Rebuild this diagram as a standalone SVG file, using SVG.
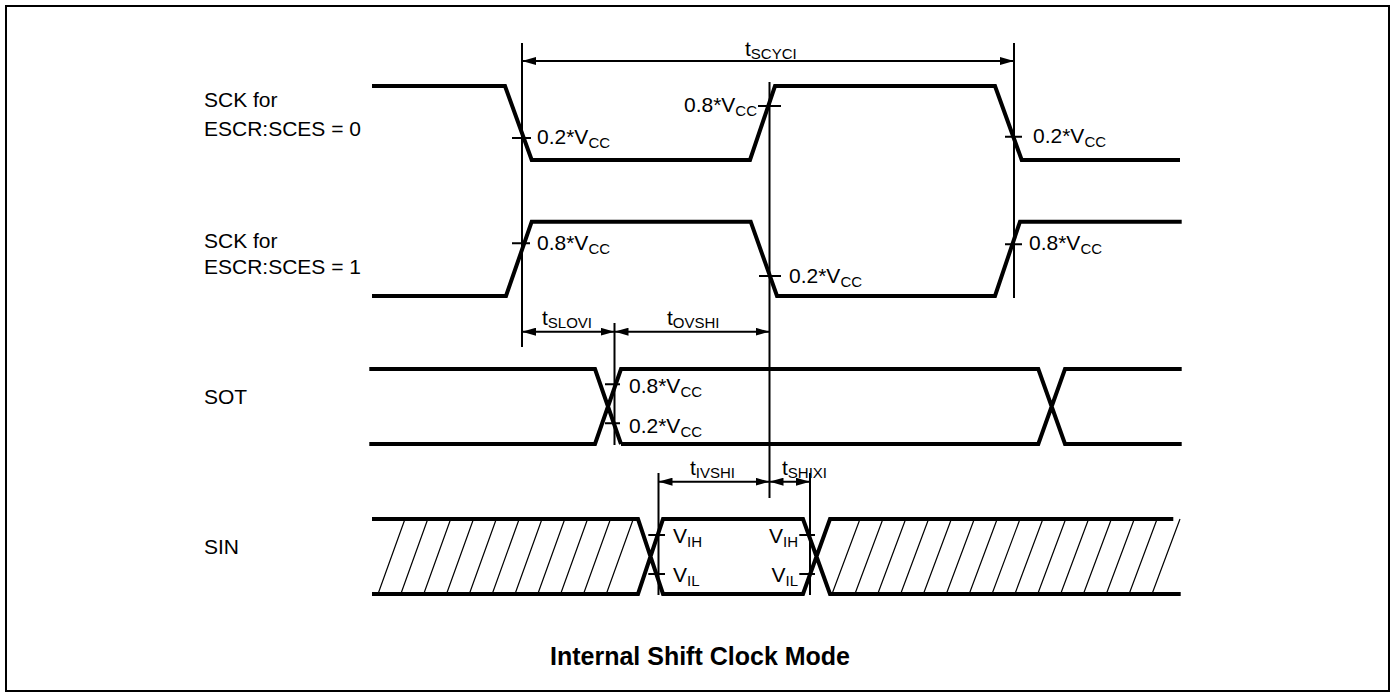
<svg xmlns="http://www.w3.org/2000/svg" width="1395" height="698" viewBox="0 0 1395 698">
<style>
.w{fill:none;stroke:#000;stroke-width:4;stroke-linejoin:miter}
.t{fill:none;stroke:#000;stroke-width:2}
.h{fill:none;stroke:#000;stroke-width:1.2}
.d{fill:none;stroke:#000;stroke-width:2}
text{font-family:"Liberation Sans",Arial,sans-serif;font-size:21px;fill:#000}
.s{font-size:15px}
.title{font-weight:bold;font-size:25px}
</style>
<defs>
<marker id="ah" viewBox="0 0 14 8" refX="14" refY="4" markerWidth="14" markerHeight="8" markerUnits="userSpaceOnUse" orient="auto-start-reverse">
<path d="M0,0 L14,4 L0,8 Z" fill="#000"/>
</marker>
</defs>
<rect x="6" y="6" width="1383" height="685" fill="#fff" stroke="#000" stroke-width="2"/>

<g id="labels">
<text x="204" y="107">SCK for</text>
<text x="204" y="136">ESCR:SCES = 0</text>
<text x="204" y="248">SCK for</text>
<text x="204" y="274">ESCR:SCES = 1</text>
<text x="204" y="404">SOT</text>
<text x="204" y="554">SIN</text>
</g>

<g id="sck0">
<path class="w" d="M372,86 H505 L531.7,160 H750 L775,86 H995 L1021.7,160 H1180"/>
<path class="t" d="M512,138 H531 M758,106 H781 M1005,136.7 H1022"/>
<text x="537" y="144">0.2*V<tspan class="s" dy="4">CC</tspan></text>
<text x="757" y="112" text-anchor="end">0.8*V<tspan class="s" dy="4">CC</tspan></text>
<text x="1033" y="143">0.2*V<tspan class="s" dy="4">CC</tspan></text>
</g>

<g id="sck1">
<path class="w" d="M372,296 H506 L531.7,221.7 H750.7 L777,296 H995 L1020,221.7 H1181.7"/>
<path class="t" d="M512,243.3 H530 M759,276 H781 M1005,244.3 H1022"/>
<text x="537" y="250">0.8*V<tspan class="s" dy="4">CC</tspan></text>
<text x="789" y="283">0.2*V<tspan class="s" dy="4">CC</tspan></text>
<text x="1029" y="250">0.8*V<tspan class="s" dy="4">CC</tspan></text>
</g>

<g id="sot">
<path class="w" d="M369.3,369 H595 L621,444 M369.3,444 H595 L621,369 H1038.3 L1065,444 H1181.7 M621,444 H1038.3 L1065,369 H1181.7"/>
<path class="t" d="M605,384.3 H620 M605,423.3 H620"/>
<text x="629" y="393">0.8*V<tspan class="s" dy="4">CC</tspan></text>
<text x="629" y="433">0.2*V<tspan class="s" dy="4">CC</tspan></text>
</g>

<g id="sin">
<path class="w" d="M372,519 H638 L663,594 H803 L830,519 H1173.3 M372,594 H638 L663,519 H803 L830,594 H1180.7"/>
<path class="h" d="M405,519 L378,594 M427.8,519 L400.8,594 M450.7,519 L423.7,594 M473.5,519 L446.5,594 M496.3,519 L469.3,594 M519.2,519 L492.2,594 M542,519 L515,594 M564.8,519 L537.8,594 M587.6,519 L560.6,594 M610.5,519 L583.5,594 M633.3,519 L606.3,594"/>
<path class="h" d="M860,519 L832,594 M882.9,519 L854.9,594 M905.7,519 L877.7,594 M928.6,519 L900.6,594 M951.4,519 L923.4,594 M974.3,519 L946.3,594 M997.2,519 L969.2,594 M1020,519 L992,594 M1042.9,519 L1014.9,594 M1065.7,519 L1037.7,594 M1088.6,519 L1060.6,594 M1111.4,519 L1083.4,594 M1134.3,519 L1106.3,594 M1157.1,519 L1129.1,594 M1180,519 L1152,594"/>
<path class="t" d="M648.3,535 H665 M648.3,574 H665 M799.3,535 H815 M799.3,574 H815"/>
<text x="673" y="543">V<tspan class="s" dy="4">IH</tspan></text>
<text x="673" y="582">V<tspan class="s" dy="4">IL</tspan></text>
<text x="798" y="543" text-anchor="end">V<tspan class="s" dy="4">IH</tspan></text>
<text x="798" y="582" text-anchor="end">V<tspan class="s" dy="4">IL</tspan></text>
</g>

<g id="connectors">
<path class="t" d="M522,43 V347 M769.5,82 V498 M1014,43 V298 M614.5,323 V445 M658.5,473 V595 M810,473 V595"/>
<line class="d" x1="522" y1="61" x2="1014" y2="61" marker-start="url(#ah)" marker-end="url(#ah)"/>
<line class="d" x1="522" y1="331.7" x2="614.5" y2="331.7" marker-start="url(#ah)" marker-end="url(#ah)"/>
<line class="d" x1="614.5" y1="331.7" x2="769.5" y2="331.7" marker-start="url(#ah)" marker-end="url(#ah)"/>
<line class="d" x1="658.5" y1="481.7" x2="769.5" y2="481.7" marker-start="url(#ah)" marker-end="url(#ah)"/>
<line class="d" x1="769.5" y1="481.7" x2="810" y2="481.7" marker-start="url(#ah)" marker-end="url(#ah)"/>
</g>

<g id="timing-labels">
<text x="745" y="56">t<tspan class="s" dy="3">SCYCI</tspan></text>
<text x="542" y="325">t<tspan class="s" dy="3">SLOVI</tspan></text>
<text x="667" y="325">t<tspan class="s" dy="3">OVSHI</tspan></text>
<text x="690" y="475">t<tspan class="s" dy="3">IVSHI</tspan></text>
<text x="782" y="475">t<tspan class="s" dy="3">SHIXI</tspan></text>
</g>

<text class="title" x="700" y="665" text-anchor="middle">Internal Shift Clock Mode</text>
</svg>
